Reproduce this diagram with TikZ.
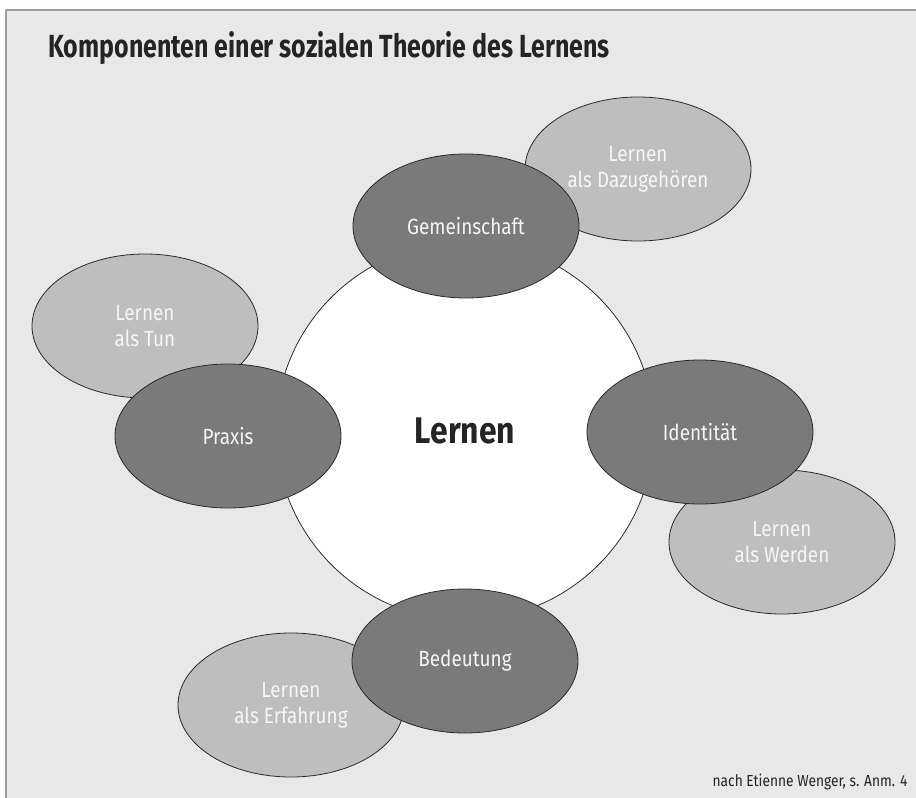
\documentclass[tikz,border=0pt]{standalone}
\usepackage{fontspec}
\setmainfont{Fira Sans}[FakeStretch=0.86]
\newfontfamily\titlefont{Fira Sans}[FakeStretch=0.78]
\usetikzlibrary{shapes.geometric}
\definecolor{eaeaea}{rgb}{0.91,0.91,0.91}
\definecolor{bebebe}{rgb}{0.745,0.745,0.745}
\definecolor{gggggg}{rgb}{0.48,0.48,0.48}
\definecolor{frgray}{rgb}{0.62,0.62,0.62}
\definecolor{lnline}{rgb}{0.17,0.17,0.17}
\definecolor{txtdark}{rgb}{0.14,0.14,0.14}
\definecolor{txtlight}{rgb}{0.96,0.96,0.96}

\begin{document}
\begin{tikzpicture}[line cap=round,line join=round,x=1pt,y=-1pt,
  komp/.style={ellipse,draw=lnline,fill=gggggg,line width=0.8pt,
    minimum width=226pt,minimum height=144pt,inner sep=0pt,
    text=txtlight,align=center,font=\fontsize{22}{26}\selectfont},
  lern/.style={komp,fill=bebebe}]
\useasboundingbox (0,0) rectangle (916,798);
% Rahmen
\fill[color=eaeaea] (6,10) rectangle (916,798);
\draw[color=frgray,line width=1.5pt] (6,798) -- (6,10) -- (916,10);
\node[anchor=base west,text=txtdark,font=\titlefont\bfseries\fontsize{32}{38}\selectfont] (titel) at (45,57) {Komponenten einer sozialen Theorie des Lernens};
% Mitte
\node[circle,draw=lnline,fill=white,line width=0.8pt,minimum size=378pt,inner sep=0pt,text=txtdark,font=\bfseries\fontsize{37}{40}\selectfont] (lernen) at (465,431) {Lernen};
% Lernen als ...
\node[lern] (dazu) at (638,169) {Lernen\\als Dazugehören};
\node[lern] (tun) at (145,326) {Lernen\\als Tun};
\node[lern] (werden) at (782,542) {Lernen\\als Werden};
\node[lern] (erfahrung) at (291,705) {Lernen\\als Erfahrung};
% Komponenten
\node[komp] (gemeinschaft) at (466,226) {Gemeinschaft};
\node[komp] (praxis) at (228,436) {Praxis};
\node[komp] (identitaet) at (700,432) {Identität};
\node[komp] (bedeutung) at (465,661) {Bedeutung};
\node[anchor=base east,text=txtdark,font=\fontsize{16}{19}\selectfont] (quelle) at (911,786) {nach Etienne Wenger, s. Anm. 4};
\end{tikzpicture}
\end{document}
